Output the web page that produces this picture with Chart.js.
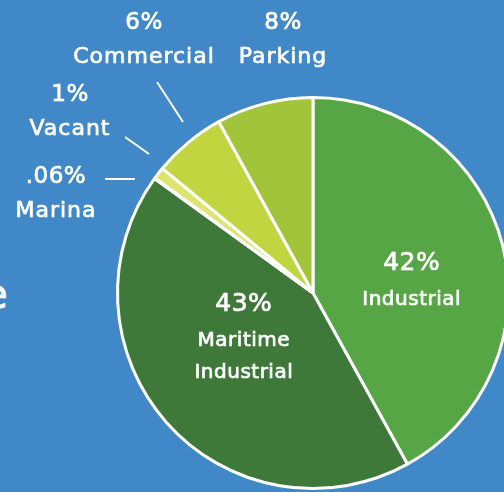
<!DOCTYPE html>
<html>
<head>
<meta charset="utf-8">
<script src="https://cdn.jsdelivr.net/npm/chart.js@4.4.1/dist/chart.umd.min.js"></script>
<style>
  html, body { margin: 0; padding: 0; width: 504px; height: 492px; overflow: hidden; background: #4088c8; }
  #wrap { position: relative; width: 504px; height: 492px; overflow: hidden; }
  #land-use { position: absolute; left: 0; top: 0; }
  #cut { position: absolute; left: -17px; top: 271px; color: #fff; font: 40px "DejaVu Sans", sans-serif; -webkit-text-stroke: 0.8px #fff; }
</style>
</head>
<body>
<div id="wrap">
  <span id="cut">e</span>
  <canvas id="land-use" width="530" height="510"></canvas>
</div>
<script>
const categories = ["Industrial", "Maritime Industrial", "Marina", "Vacant", "Commercial", "Parking"];
const shares = [42, 43, 0.06, 1, 6, 8];
const shareLabels = ["42%", "43%", ".06%", "1%", "6%", "8%"];
const sliceColors = ["#56a645", "#3f7939", "#e2e87c", "#dde470", "#c0d53f", "#a2c43a"];

// where the text goes, by slice index
const insideText = {
  0: { lines: [shareLabels[0], "Industrial"], dx: 4, dy: 12 },
  1: { lines: [shareLabels[1], "Maritime", "Industrial"], dx: 4, dy: -36 }
};
const outsideText = {
  2: { x: 56, y: 177, lines: [shareLabels[2], "Marina"], line: [[105, 179], [135, 179]] },
  3: { x: 70, y: 95, lines: [shareLabels[3], "Vacant"], line: [[125, 137], [149, 154]] },
  4: { x: 144, y: 23, lines: [shareLabels[4], "Commercial"], line: [[157, 82], [183, 122]] },
  5: { x: 283, y: 23, lines: [shareLabels[5], "Parking"] }
};

function boldText(ctx, s, x, y) {
  ctx.fillText(s, x, y);
  ctx.strokeText(s, x, y);
}

const labelPlugin = {
  id: "sliceLabels",
  afterDatasetsDraw(chart) {
    const ctx = chart.ctx;
    const arcs = chart.getDatasetMeta(0).data;
    ctx.save();
    ctx.fillStyle = "#fff";
    ctx.strokeStyle = "#fff";
    ctx.textAlign = "center";
    ctx.textBaseline = "middle";
    ctx.lineWidth = 0.7;

    ctx.letterSpacing = "0.5px";
    for (const i in insideText) {
      const t = insideText[i];
      const p = arcs[i].tooltipPosition();
      let y = p.y + t.dy - 17;
      t.lines.forEach((s, k) => {
        ctx.font = k == 0 ? "25px 'DejaVu Sans'" : "20px 'DejaVu Sans'";
        boldText(ctx, s, p.x + t.dx, y);
        y += k == 0 ? 36 : 32;
      });
    }

    for (const i in outsideText) {
      const t = outsideText[i];
      ctx.lineWidth = 0.7;
      ctx.letterSpacing = "0.5px";
      ctx.font = "23px 'DejaVu Sans'";
      boldText(ctx, t.lines[0], t.x, t.y);
      ctx.letterSpacing = "1px";
      ctx.font = "22px 'DejaVu Sans'";
      boldText(ctx, t.lines[1], t.x, t.y + 34);
      if (t.line) {
        ctx.lineWidth = 2;
        ctx.beginPath();
        ctx.moveTo(t.line[0][0], t.line[0][1]);
        ctx.lineTo(t.line[1][0], t.line[1][1]);
        ctx.stroke();
      }
    }
    ctx.restore();
  }
};

let chart = new Chart(document.getElementById("land-use"), {
  type: 'pie',
  data: {
    labels: categories,
    datasets: [{
      data: shares,
      backgroundColor: sliceColors,
      borderColor: "#ffffff",
      borderWidth: 3
    }]
  },
  options: {
    responsive: false,
    animation: false,
    layout: { padding: { left: 116, top: 96, right: 20, bottom: 20 } },
    plugins: {
      legend: { display: false },
      tooltip: { enabled: false }
    }
  },
  plugins: [labelPlugin]
});
</script>
</body>
</html>
